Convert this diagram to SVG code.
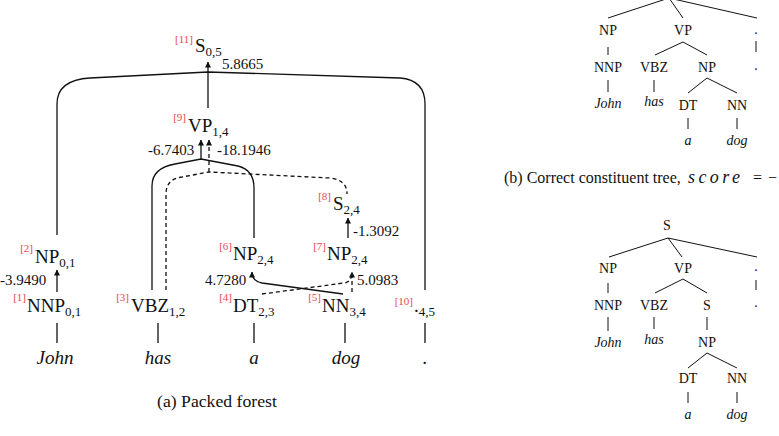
<svg xmlns="http://www.w3.org/2000/svg" width="779" height="436" viewBox="0 0 779 436">
<style>
text{fill:#111;font-family:'Liberation Serif','Times New Roman',serif}
.lab{font-size:19px}
.sub{font-size:13px}
.idx{font-size:11px;fill:#e8474e;text-anchor:end}
.w{font-size:19px;font-style:italic;text-anchor:middle}
.num{font-size:15px}
.cap{font-size:17.7px}
.capb{font-size:16px}
.t{font-size:14px;text-anchor:middle}
.ti{font-size:14px;font-style:italic;text-anchor:middle}
.e{fill:none;stroke:#111;stroke-width:1.3}
.d{fill:none;stroke:#111;stroke-width:1.3;stroke-dasharray:4 3}
.tl{fill:none;stroke:#111;stroke-width:1}
</style>
<defs>
<marker id="ah" viewBox="0 0 6 6" refX="5.5" refY="3" markerWidth="6" markerHeight="6" markerUnits="userSpaceOnUse" orient="auto">
<path d="M0,0 L6,3 L0,6 Z" fill="#111"/>
</marker>
</defs>

<!-- (a) packed forest connectors -->
<g id="connectors">
<path class="e" d="M57,235 V104 Q57,80 90,78 L208,72 L400,78 Q425,80 425,104 V290"/>
<path class="e" d="M208,108 V62" marker-end="url(#ah)"/>
<path class="e" d="M152,290 V186 Q152,168 175,164 L201,159 L238,166 Q254,170 254,188 V238"/>
<path class="e" d="M201,159 V140" marker-end="url(#ah)"/>
<path class="d" d="M166,290 V194 Q166,179 182,177 L209,172 L330,178 Q347,180 347,194"/>
<path class="d" d="M209,172 V140" marker-end="url(#ah)"/>
<path class="e" d="M57,292 V270" marker-end="url(#ah)"/>
<path class="e" d="M348,238 V218" marker-end="url(#ah)"/>
<path class="e" d="M343,294 L262,283 Q252,281 252,272" marker-end="url(#ah)"/>
<path class="d" d="M262,294 L344,283 Q352,282 352,272" marker-end="url(#ah)"/>
<path class="d" d="M352,292 V274"/>
<path class="e" d="M57,323 V343 M158,323 V343 M254,323 V343 M345,323 V343 M425,323 V343"/>
</g>

<g id="weights">
<text class="num" x="222" y="69">5.8665</text>
<text class="num" x="148" y="155">-6.7403</text>
<text class="num" x="217" y="155">-18.1946</text>
<text class="num" x="0" y="285">-3.9490</text>
<text class="num" x="353" y="236">-1.3092</text>
<text class="num" x="205" y="285">4.7280</text>
<text class="num" x="357" y="285">5.0983</text>
</g>

<g id="n11"><text class="idx" x="193" y="43">[11]</text><text class="lab" x="195" y="52">S<tspan class="sub" dy="4">0,5</tspan></text></g>
<g id="n9"><text class="idx" x="186" y="121">[9]</text><text class="lab" x="188" y="132">VP<tspan class="sub" dy="4">1,4</tspan></text></g>
<g id="n8"><text class="idx" x="331" y="200">[8]</text><text class="lab" x="333" y="210">S<tspan class="sub" dy="4">2,4</tspan></text></g>
<g id="n2"><text class="idx" x="33" y="252">[2]</text><text class="lab" x="35" y="263">NP<tspan class="sub" dy="4">0,1</tspan></text></g>
<g id="n6"><text class="idx" x="232" y="250">[6]</text><text class="lab" x="233" y="260">NP<tspan class="sub" dy="4">2,4</tspan></text></g>
<g id="n7"><text class="idx" x="326" y="250">[7]</text><text class="lab" x="327" y="260">NP<tspan class="sub" dy="4">2,4</tspan></text></g>
<g id="n1"><text class="idx" x="26" y="301">[1]</text><text class="lab" x="27" y="312">NNP<tspan class="sub" dy="4">0,1</tspan></text></g>
<g id="n3"><text class="idx" x="129" y="301">[3]</text><text class="lab" x="131" y="312">VBZ<tspan class="sub" dy="4">1,2</tspan></text></g>
<g id="n4"><text class="idx" x="232" y="301">[4]</text><text class="lab" x="233" y="312">DT<tspan class="sub" dy="4">2,3</tspan></text></g>
<g id="n5"><text class="idx" x="321" y="301">[5]</text><text class="lab" x="322" y="312">NN<tspan class="sub" dy="4">3,4</tspan></text></g>
<g id="n10"><text class="idx" x="413" y="305">[10]</text><text class="lab" x="414" y="312">.<tspan class="sub" dy="4">4,5</tspan></text></g>

<g id="words">
<text class="w" x="55" y="364">John</text>
<text class="w" x="158" y="364">has</text>
<text class="w" x="254" y="364">a</text>
<text class="w" x="346" y="364">dog</text>
<text class="w" x="425" y="364">.</text>
</g>
<text class="cap" x="157" y="407">(a) Packed forest</text>

<!-- (b) correct tree -->
<g id="treeB">
<path class="tl" d="M608,18 L669,-2 M683,18 L669,-2 M757,18 L669,-2"/>
<path class="tl" d="M608,47 V55 M756,41 V52"/>
<path class="tl" d="M683,42 L655,55 M683,42 L707,55"/>
<path class="tl" d="M608,80 V92 M654,80 V92"/>
<path class="tl" d="M707,78 L688,93 M707,78 L737,93"/>
<path class="tl" d="M688,118 V129 M737,118 V129"/>
<text class="t" x="608" y="35">NP</text>
<text class="t" x="683" y="35">VP</text>
<text class="t" x="756" y="34">.</text>
<text class="t" x="608" y="72">NNP</text>
<text class="t" x="654" y="72">VBZ</text>
<text class="t" x="707" y="72">NP</text>
<text class="t" x="756" y="70">.</text>
<text class="ti" x="608" y="108">John</text>
<text class="ti" x="654" y="106">has</text>
<text class="t" x="688" y="110">DT</text>
<text class="t" x="737" y="110">NN</text>
<text class="ti" x="688" y="145">a</text>
<text class="ti" x="737" y="145">dog</text>
</g>
<text class="capb" x="504" y="183">(b) Correct constituent tree,<tspan x="688" font-style="italic" font-size="18px" textLength="52" lengthAdjust="spacing">score</tspan><tspan x="753">=</tspan><tspan x="768">−</tspan></text>

<!-- (c) second tree -->
<g id="treeC">
<path class="tl" d="M668,238 L609,257 M668,238 L682,257 M668,238 L757,257"/>
<path class="tl" d="M608,283 V293 M756,280 V290"/>
<path class="tl" d="M683,279 L655,293 M683,279 L707,293"/>
<path class="tl" d="M608,317 V331 M654,317 V329 M707,317 V330"/>
<path class="tl" d="M707,353 L688,368 M707,353 L737,368"/>
<path class="tl" d="M688,392 V403 M737,392 V403"/>
<text class="t" x="667" y="230">S</text>
<text class="t" x="608" y="273">NP</text>
<text class="t" x="683" y="273">VP</text>
<text class="t" x="756" y="271">.</text>
<text class="t" x="608" y="310">NNP</text>
<text class="t" x="654" y="310">VBZ</text>
<text class="t" x="707" y="310">S</text>
<text class="t" x="756" y="307">.</text>
<text class="ti" x="608" y="347">John</text>
<text class="ti" x="654" y="344">has</text>
<text class="t" x="707" y="347">NP</text>
<text class="t" x="688" y="383">DT</text>
<text class="t" x="737" y="383">NN</text>
<text class="ti" x="688" y="419">a</text>
<text class="ti" x="737" y="419">dog</text>
</g>
</svg>
